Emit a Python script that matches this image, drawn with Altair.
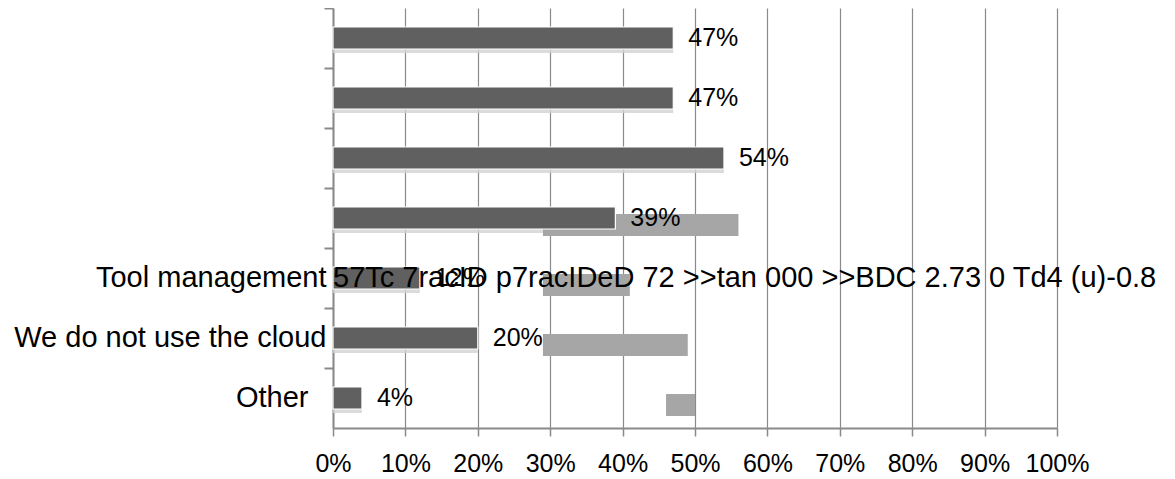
import json
import altair as alt
import pandas as pd

# ---- data ----
labels = ["", "", "", "", "Tool management", "We do not use the cloud", "Other"]
values = [47, 47, 54, 39, 12, 20, 4]
value_text = ["47%", "47%", "54%", "39%", "12%", "20%", "4%"]

# light grey ghost bars visible in the picture (row index, start %, end %)
ghost_rows = [3, 4, 5, 6]
ghost_start = [29, 29, 29, 46]
ghost_end = [56, 41, 49, 50]

# stray text that runs on from the "Tool management" label
stray_row = [4]
stray_text = ["57Tc 7racID p7racIDeD 72 >>tan 000 >>BDC  2.73 0 Td4 (u)-0.8"]

x_ticks = [0, 10, 20, 30, 40, 50, 60, 70, 80, 90, 100]

rows = list(range(len(labels)))
df = pd.DataFrame({"row": rows, "value": values, "text": value_text})
ghost = pd.DataFrame({"row": ghost_rows, "start": ghost_start, "end": ghost_end})
stray = pd.DataFrame({"row": stray_row, "x": [0], "text": stray_text})

FONT = "Liberation Sans"
GRID = "#8a8a8a"

label_expr = json.dumps(labels) + "[datum.value]"

y_enc = alt.Y(
    "row:O",
    sort=rows,
    scale=alt.Scale(domain=rows, paddingInner=0, paddingOuter=0),
    axis=alt.Axis(
        title=None,
        labelExpr=label_expr,
        labelFont=FONT,
        labelFontSize=29,
        labelColor="black",
        labelPadding={"condition": {"test": "datum.value == 6", "value": 16}, "value": -2},
        labelLimit=400,
        labelOverlap=False,
        tickSize=9,
        tickColor=GRID,
        tickWidth=2,
        domainColor=GRID,
        domainWidth=2,
        bandPosition=0,
        grid=False,
    ),
)

x_scale = alt.Scale(domain=[0, 100], nice=False)
x_axis = alt.Axis(
    title=None,
    values=x_ticks,
    labelExpr="datum.value + '%'",
    labelFont=FONT,
    labelFontSize=25,
    labelColor="black",
    labelPadding=15,
    labelOverlap=False,
    labelFlush=False,
    labelBound=False,
    tickSize=8,
    tickColor=GRID,
    tickWidth=1.5,
    domainColor=GRID,
    domainWidth=2,
    grid=True,
    gridColor=GRID,
    gridWidth=1.2,
    gridOpacity=1,
)

base = alt.Chart(df)

shadow = base.mark_bar(color="#d2d2d2", size=22, yOffset=4, opacity=0.8).encode(
    x=alt.X("value:Q", scale=x_scale, axis=x_axis),
    y=y_enc,
)

ghost_bars = alt.Chart(ghost).mark_bar(color="#a6a6a6", size=22, yOffset=7).encode(
    x=alt.X("start:Q", scale=x_scale),
    x2="end:Q",
    y=alt.Y("row:O", sort=rows),
)

bars = base.mark_bar(color="#606060", size=22, stroke="white", strokeWidth=1.2).encode(
    x=alt.X("value:Q", scale=x_scale),
    y=alt.Y("row:O", sort=rows),
)

value_labels = base.mark_text(
    align="left", baseline="middle", dx=15, font=FONT, fontSize=25, color="black"
).encode(
    x=alt.X("value:Q", scale=x_scale),
    y=alt.Y("row:O", sort=rows),
    text="text:N",
)

stray_labels = alt.Chart(stray).mark_text(
    align="left", baseline="middle", dx=0, font=FONT, fontSize=29, color="black"
).encode(
    x=alt.X("x:Q", scale=x_scale),
    y=alt.Y("row:O", sort=rows),
    text="text:N",
)

chart = (
    alt.layer(shadow, ghost_bars, bars, value_labels, stray_labels)
    .properties(
        width=724,
        height=420,
        autosize=alt.AutoSizeParams(type="none"),
        padding={"left": 325, "top": 0, "right": 110, "bottom": 50},
        background="white",
    )
    .configure_view(stroke=None)
)

chart.save("out.html", embed_options={"renderer": "svg", "actions": False})
